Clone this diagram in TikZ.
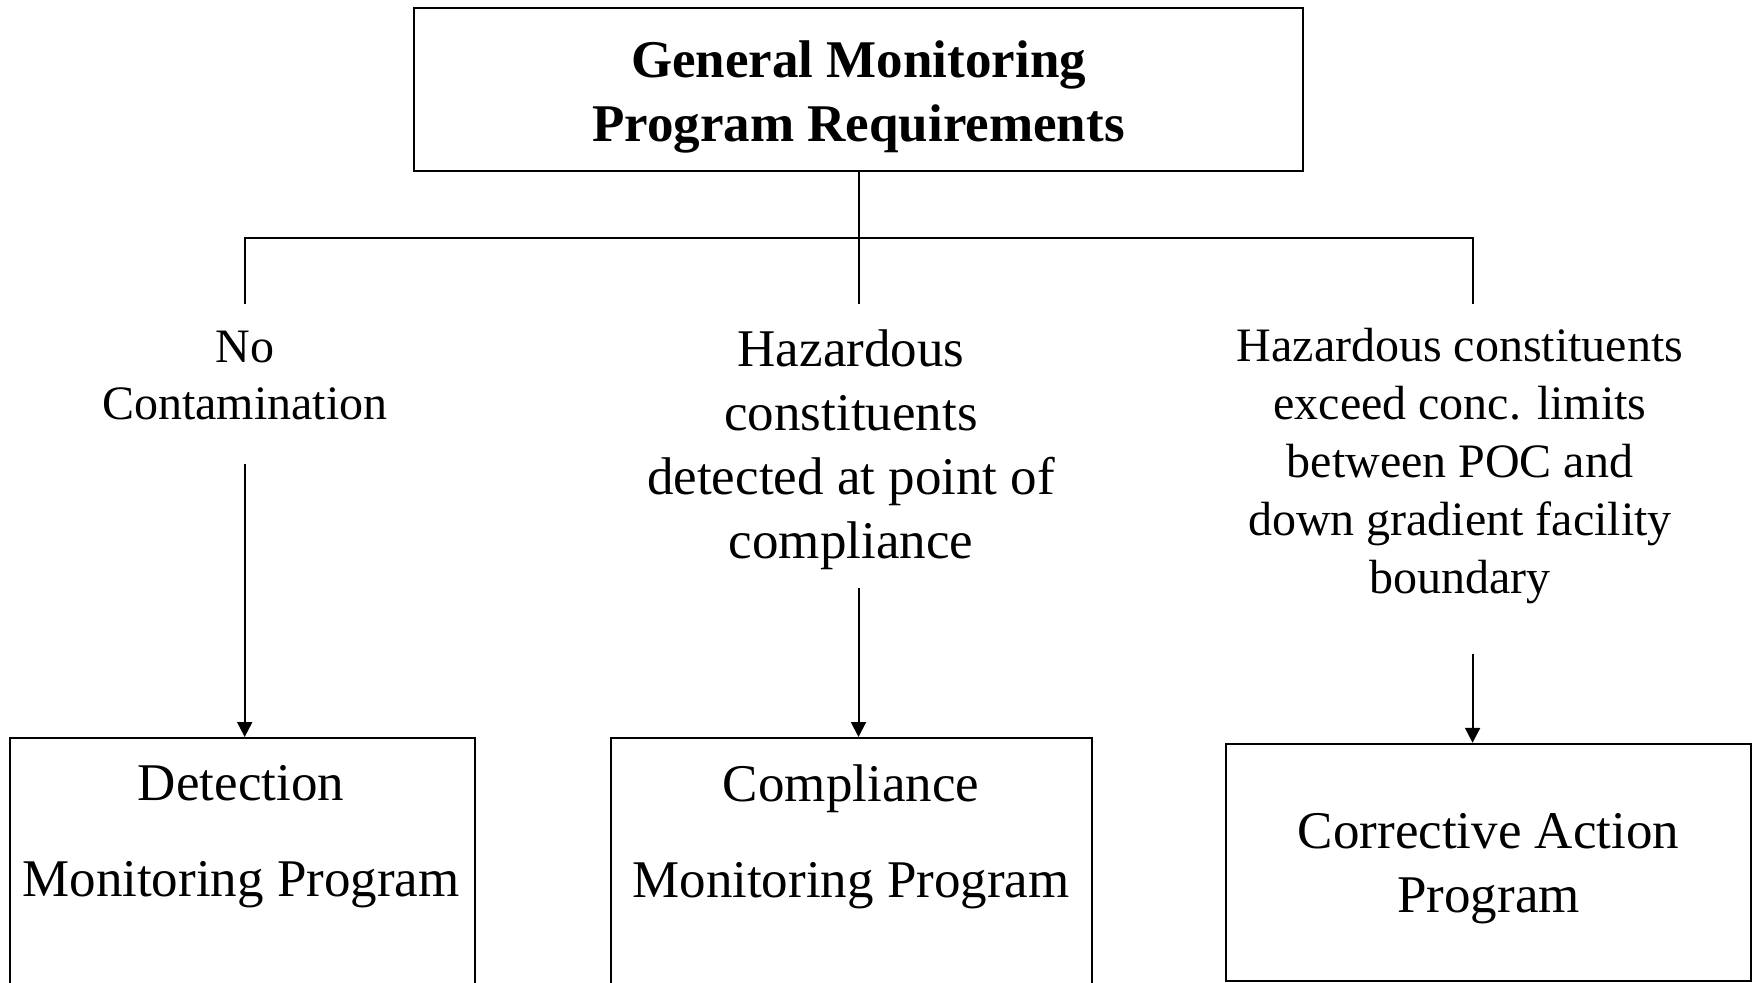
\documentclass[tikz,border=0pt]{standalone}
\usepackage{fontspec}
\setmainfont{Liberation Serif}
\usetikzlibrary{calc,arrows.meta}
\tikzset{
	box/.style={draw, line width=1.2pt, inner sep=0pt, align=center},
	lbl/.style={inner sep=0pt, align=center, font=\fontsize{24}{28.5}\selectfont},
	big/.style={inner sep=0pt, align=center, font=\fontsize{26.5}{32}\selectfont},
	conn/.style={line width=1pt},
	arr/.style={line width=1pt, -{Triangle[length=7.5pt,width=7.5pt]}}
}

\begin{document}
\begin{tikzpicture}[x=0.5pt, y=0.5pt]
	\useasboundingbox (0,0) rectangle (1752,982);
	\clip (0,0) rectangle (1752,982);
	\node[box, minimum width=444.5pt, minimum height=81.5pt] (gen) at (858.5,892.5) {};
	\node[big, font=\fontsize{26.5}{32}\selectfont\bfseries] (gent) at (858.5,885.5) {General Monitoring\\Program Requirements};
	\coordinate (jl) at (244.7,744);
	\coordinate (jr) at (1472.6,744);
	\coordinate (dl) at (244.7,678);
	\coordinate (dm) at (858.5,678);
	\coordinate (dr) at (1472.6,678);
	\draw[conn] (gen.south) -- (dm);
	\draw[conn] (dl) -- (jl) -- (jr) -- (dr);
	\node[lbl] (noc) at (244.7,606) {No\\Contamination};
	\node[big] (haz) at (851,532) {Hazardous\\constituents\\detected at point of\\compliance};
	\node[lbl, font=\fontsize{24}{29}\selectfont] (exc) at (1460,515.5) {Hazardous constituents\\exceed conc. limits\\between POC and\\down gradient facility\\boundary};
	\coordinate (al) at (244.7,518);
	\coordinate (am) at (858.5,394);
	\coordinate (ar) at (1472.6,328);
	\node[box, anchor=north, minimum width=232.5pt, minimum height=140pt] (det) at (242.5,245) {};
	\node[box, anchor=north, minimum width=240.5pt, minimum height=140pt] (com) at (851.5,245) {};
	\node[box, minimum width=262.5pt, minimum height=118.5pt] (cap) at (1488.5,119.5) {};
	\node[big] (capt) at (1488.5,113) {Corrective Action\\Program};
	\node[big, font=\fontsize{26.5}{48}\selectfont] (dett) at (241,145.5) {Detection\\Monitoring Program};
	\node[big, font=\fontsize{26.5}{48}\selectfont] (comt) at (851,145.5) {Compliance\\Monitoring Program};
	\draw[arr] (al) -- (al |- det.north);
	\draw[arr] (am) -- (am |- com.north);
	\draw[arr] (ar) -- (ar |- cap.north);
\end{tikzpicture}
\end{document}
